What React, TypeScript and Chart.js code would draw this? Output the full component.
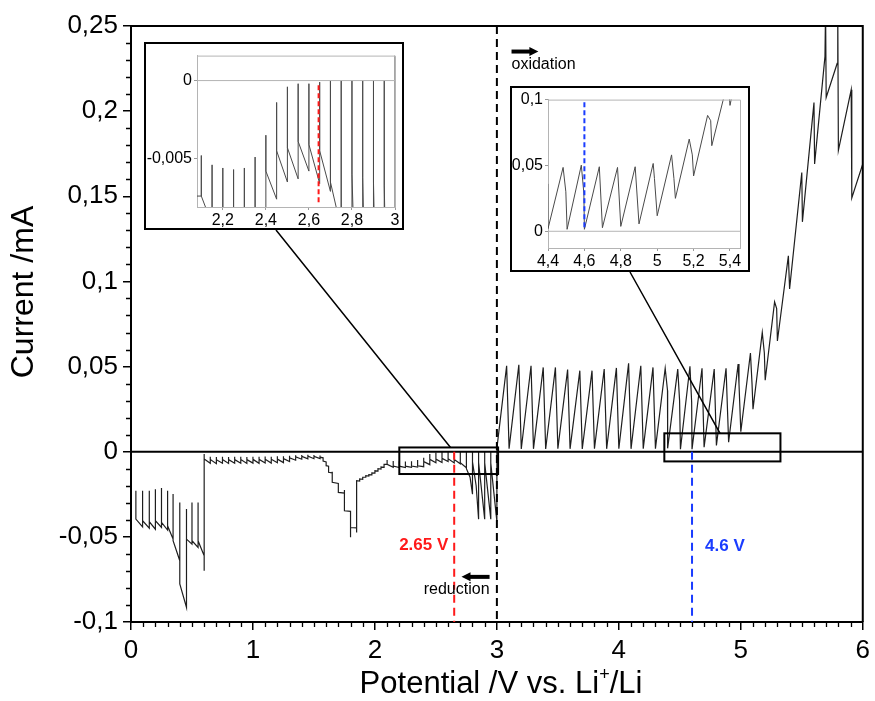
import React, { useEffect, useRef } from "react";
import { Chart, registerables } from "chart.js";
Chart.register(...registerables);

type Pt = [number, number];

// ---------- data: potential (V vs. Li+/Li), current (mA) ----------
const lithiationTrace: Pt[] = [
  [0.04, -0.0229], [0.04, -0.0396], [0.095, -0.0441], [0.095, -0.0229], [0.095, -0.0405],
  [0.15, -0.0449], [0.15, -0.0229], [0.15, -0.0411], [0.2, -0.0455], [0.2, -0.022], [0.2, -0.0405],
  [0.25, -0.0445], [0.25, -0.0213], [0.25, -0.0415], [0.3, -0.046], [0.3, -0.0229], [0.3, -0.0435],
  [0.345, -0.0513], [0.345, -0.0249], [0.345, -0.0523], [0.4, -0.064], [0.4, -0.0298], [0.4, -0.0777],
  [0.455, -0.0915], [0.455, -0.0337], [0.455, -0.0513], [0.5, -0.0543], [0.5, -0.0298], [0.5, -0.0523],
  [0.55, -0.0562], [0.55, -0.0298], [0.55, -0.0523], [0.6, -0.0611], [0.6, -0.0699], [0.6, -0.0014],
];

const plateauTrace: Pt[] = [
  [0.6, -0.0042], [0.65, -0.0068], [0.65, -0.003], [0.65, -0.0046], [0.7, -0.007], [0.7, -0.0031], [0.7, -0.0047],
  [0.75, -0.0068], [0.75, -0.0029], [0.75, -0.0045], [0.8, -0.0069], [0.8, -0.0031], [0.8, -0.0046],
  [0.85, -0.0068], [0.85, -0.003], [0.85, -0.0046], [0.9, -0.0068], [0.9, -0.0029], [0.9, -0.0045],
  [0.95, -0.0069], [0.95, -0.0031], [0.95, -0.0046], [1.0, -0.0067], [1.0, -0.0029], [1.0, -0.0045],
  [1.05, -0.0068], [1.05, -0.003], [1.05, -0.0045], [1.1, -0.0066], [1.1, -0.0028], [1.1, -0.0044],
  [1.15, -0.0067], [1.15, -0.0029], [1.15, -0.0044], [1.2, -0.0065], [1.2, -0.0027], [1.2, -0.0043],
  [1.25, -0.0064], [1.25, -0.0026], [1.25, -0.004], [1.3, -0.0058], [1.3, -0.0024], [1.3, -0.0036],
  [1.35, -0.005], [1.35, -0.0021], [1.35, -0.003], [1.4, -0.0044], [1.4, -0.0019], [1.4, -0.0027],
  [1.45, -0.0042], [1.45, -0.0018], [1.45, -0.0026], [1.5, -0.0041], [1.5, -0.0019], [1.5, -0.0027],
  [1.55, -0.004],
];

const peakTrace: Pt[] = [
  [1.55, -0.0022], [1.55, -0.0032], [1.575, -0.0036], [1.575, -0.0055], [1.6, -0.006], [1.6, -0.0082],
  [1.62, -0.0085], [1.62, -0.0121], [1.65, -0.0125], [1.65, -0.0118], [1.65, -0.018], [1.7, -0.0186],
  [1.7, -0.0196], [1.7, -0.0239], [1.75, -0.0243], [1.75, -0.0225], [1.75, -0.0347], [1.8, -0.035],
  [1.8, -0.0503], [1.8, -0.0445], [1.85, -0.0447], [1.85, -0.0474], [1.85, -0.017], [1.875, -0.0172],
  [1.875, -0.016], [1.9, -0.0162], [1.9, -0.015], [1.925, -0.015], [1.925, -0.0141], [1.95, -0.0143],
  [1.95, -0.0135], [1.975, -0.0136], [1.975, -0.0124], [2.0, -0.0125], [2.0, -0.0112], [2.025, -0.0114],
  [2.025, -0.01], [2.05, -0.0102], [2.05, -0.009], [2.075, -0.0092], [2.075, -0.0074], [2.1, -0.0074],
];

const highReductionTrace: Pt[] = [
  [2.1, -0.0048], [2.1, -0.0074], [2.15, -0.0092], [2.15, -0.0054], [2.15, -0.0084],
  [2.2, -0.0093], [2.2, -0.0056], [2.2, -0.0085], [2.25, -0.0093], [2.25, -0.0057], [2.25, -0.0085],
  [2.3, -0.0092], [2.3, -0.0056], [2.3, -0.0084], [2.35, -0.009], [2.35, -0.0049], [2.35, -0.0083],
  [2.4, -0.0088], [2.4, -0.0035], [2.4, -0.0058], [2.45, -0.0076], [2.45, -0.0014], [2.45, -0.0045],
  [2.5, -0.0065], [2.5, -0.0004], [2.5, -0.0043], [2.55, -0.0063], [2.55, -0.0002], [2.55, -0.0039],
  [2.6, -0.0058], [2.6, -0.0002], [2.6, -0.0041], [2.65, -0.0066], [2.65, -0.0001], [2.65, -0.0045],
  [2.7, -0.0071], [2.7, 0.0], [2.7, -0.0065], [2.75, -0.0095], [2.75, 0.0], [2.75, -0.01],
  [2.78, -0.015], [2.8, -0.025], [2.8, 0.0], [2.8, -0.006], [2.83, -0.02], [2.85, -0.0396],
  [2.85, 0.0], [2.85, -0.0062], [2.9, -0.0396], [2.9, 0.0], [2.9, -0.0065], [2.95, -0.0396],
  [2.95, 0.0], [2.95, -0.0067], [3.0, -0.041],
];

const oxidationTrace: Pt[] = [
  [3.0, 0.002], [3.08, 0.0505], [3.1, 0.0018], [3.18, 0.0511], [3.2, 0.0016], [3.28, 0.0505], [3.3, 0.0017],
  [3.38, 0.0495], [3.4, 0.0016], [3.48, 0.0495], [3.5, 0.0018], [3.58, 0.0482], [3.6, 0.0017],
  [3.68, 0.0476], [3.7, 0.0016], [3.78, 0.0476], [3.8, 0.0018], [3.88, 0.0486], [3.9, 0.0017],
  [3.98, 0.0492], [4.0, 0.0018], [4.08, 0.0519], [4.1, 0.0017], [4.18, 0.0505], [4.2, 0.0018],
  [4.28, 0.0495], [4.3, 0.0018], [4.38, 0.049], [4.399, 0.036], [4.4, 0.002], [4.483, 0.0485],
  [4.498, 0.03], [4.505, 0.0015], [4.583, 0.0502], [4.597, 0.029], [4.6, 0.0015], [4.682, 0.049],
  [4.699, 0.0027], [4.782, 0.0485], [4.8, 0.0037], [4.879, 0.049], [4.9, 0.0056],
];

const breakdownTrace: Pt[] = [
  [4.978, 0.0515], [4.985, 0.04], [5.0, 0.0118], [5.079, 0.058], [5.092, 0.04], [5.1, 0.025],
  [5.176, 0.07], [5.193, 0.058], [5.2, 0.042], [5.277, 0.088], [5.294, 0.084], [5.3, 0.065],
  [5.39, 0.115], [5.4, 0.0956], [5.5, 0.164], [5.505, 0.135], [5.6, 0.205], [5.605, 0.169],
  [5.69, 0.232], [5.695, 0.26], [5.7, 0.208], [5.79, 0.228], [5.795, 0.26], [5.8, 0.177],
  [5.905, 0.2125], [5.91, 0.149], [6.0, 0.169],
];

const zeroLine: Pt[] = [[0, 0], [6, 0]];

const xTicksMain = [0, 1, 2, 3, 4, 5, 6];
const yTicksMain = [-0.1, -0.05, 0, 0.05, 0.1, 0.15, 0.2, 0.25];
const xTicksInset1 = [2.2, 2.4, 2.6, 2.8, 3];
const yTicksInset1 = [-0.005, 0];
const xTicksInset2 = [4.4, 4.6, 4.8, 5, 5.2, 5.4];
const yTicksInset2 = [0, 0.05, 0.1];

const reductionOnset = 2.65; // V, red marker
const oxidationOnset = 4.6; // V, blue marker

// ---------- layout / styling ----------
const FONT = "'Liberation Sans', Arial, Helvetica, sans-serif";
const INSET1 = { left: 144, top: 42, width: 260, height: 188 };
const INSET2 = { left: 510, top: 86, width: 240, height: 186 };
const BOX1 = { x0: 2.2, x1: 3.01, y0: -0.0131, y1: 0.0025 };
const BOX2 = { x0: 4.373, x1: 5.325, y0: -0.0057, y1: 0.0108 };

const trace = [
  ...lithiationTrace, ...plateauTrace, ...peakTrace, ...highReductionTrace,
  ...oxidationTrace, ...breakdownTrace,
].map(([x, y]) => ({ x, y }));
const zero = zeroLine.map(([x, y]) => ({ x, y }));

const fmt = (v: number) => String(Math.round(v * 10000) / 10000).replace(".", ",").replace(/^-0$/, "0");

function arrow(ctx: CanvasRenderingContext2D, x0: number, x1: number, y: number) {
  const dir = Math.sign(x1 - x0);
  ctx.beginPath();
  ctx.lineWidth = 4;
  ctx.moveTo(x0, y);
  ctx.lineTo(x1 - dir * 7, y);
  ctx.stroke();
  ctx.beginPath();
  ctx.moveTo(x1, y);
  ctx.lineTo(x1 - dir * 9, y - 4.5);
  ctx.lineTo(x1 - dir * 9, y + 4.5);
  ctx.closePath();
  ctx.fill();
}

const mainDecor = {
  id: "mainDecor",
  afterDatasetsDraw(chart: any) {
    const { ctx, chartArea: a, scales } = chart;
    const X = (v: number) => scales.x.getPixelForValue(v);
    const Y = (v: number) => scales.y.getPixelForValue(v);
    ctx.save();
    ctx.strokeStyle = "#000";
    ctx.fillStyle = "#000";
    // frame
    ctx.lineWidth = 2;
    ctx.beginPath();
    ctx.moveTo(a.left, a.top);
    ctx.lineTo(a.right, a.top);
    ctx.lineTo(a.right, a.bottom);
    ctx.stroke();
    // minor ticks
    ctx.lineWidth = 1.3;
    ctx.beginPath();
    for (let i = 0; i <= 60; i++) {
      if (i % 10 === 0) continue;
      const px = Math.round(X(i / 10)) + 0.5;
      ctx.moveTo(px, a.bottom);
      ctx.lineTo(px, a.bottom + 5);
    }
    for (let i = -10; i <= 25; i++) {
      if (i % 5 === 0) continue;
      const py = Math.round(Y(i / 100)) + 0.5;
      ctx.moveTo(a.left, py);
      ctx.lineTo(a.left - 5, py);
    }
    ctx.stroke();
    // dashed markers
    ctx.lineWidth = 2;
    ctx.setLineDash([8, 5]);
    ctx.strokeStyle = "#000";
    ctx.beginPath();
    ctx.moveTo(X(3), a.top);
    ctx.lineTo(X(3), a.bottom);
    ctx.stroke();
    ctx.strokeStyle = "#ff1a1a";
    ctx.beginPath();
    ctx.moveTo(X(reductionOnset), Y(0));
    ctx.lineTo(X(reductionOnset), a.bottom);
    ctx.stroke();
    ctx.strokeStyle = "#1a3cff";
    ctx.beginPath();
    ctx.moveTo(X(oxidationOnset), Y(0));
    ctx.lineTo(X(oxidationOnset), a.bottom);
    ctx.stroke();
    ctx.setLineDash([]);
    // zoom boxes
    ctx.strokeStyle = "#000";
    ctx.lineWidth = 2;
    for (const b of [BOX1, BOX2]) {
      ctx.strokeRect(X(b.x0), Y(b.y1), X(b.x1) - X(b.x0), Y(b.y0) - Y(b.y1));
    }
    // connectors
    ctx.lineWidth = 1.5;
    ctx.beginPath();
    ctx.moveTo(INSET1.left + 132, INSET1.top + INSET1.height);
    ctx.lineTo(X(2.62), Y(BOX1.y1));
    ctx.moveTo(INSET2.left + 120, INSET2.top + INSET2.height);
    ctx.lineTo(X(4.83), Y(BOX2.y1));
    ctx.stroke();
    // annotations
    ctx.font = `16px ${FONT}`;
    ctx.textBaseline = "middle";
    ctx.textAlign = "left";
    ctx.fillText("oxidation", X(3.12), Y(0.2275));
    arrow(ctx, X(3.12), X(3.34), Y(0.235));
    ctx.textAlign = "right";
    ctx.fillText("reduction", X(2.94), Y(-0.081));
    arrow(ctx, X(2.94), X(2.71), Y(-0.0735));
    ctx.font = `bold 17px ${FONT}`;
    ctx.textAlign = "center";
    ctx.fillStyle = "#ff1a1a";
    ctx.fillText("2.65 V", X(2.4), Y(-0.055));
    ctx.fillStyle = "#1a3cff";
    ctx.fillText("4.6 V", X(4.87), Y(-0.0557));
    // axis titles
    ctx.fillStyle = "#000";
    ctx.textBaseline = "alphabetic";
    const main = "Potential /V vs. Li";
    const sup = "+";
    const tail = "/Li";
    ctx.font = `31px ${FONT}`;
    const w1 = ctx.measureText(main).width;
    const w3 = ctx.measureText(tail).width;
    ctx.font = `18px ${FONT}`;
    const w2 = ctx.measureText(sup).width;
    const total = w1 + w2 + w3;
    const cx = 501;
    const base = 693;
    const sx = cx - total / 2;
    ctx.textAlign = "left";
    ctx.font = `31px ${FONT}`;
    ctx.fillText(main, sx, base);
    ctx.font = `18px ${FONT}`;
    ctx.fillText(sup, sx + w1, base - 13);
    ctx.font = `31px ${FONT}`;
    ctx.fillText(tail, sx + w1 + w2, base);
    ctx.save();
    ctx.translate(33, 292);
    ctx.rotate(-Math.PI / 2);
    ctx.textAlign = "center";
    ctx.font = `32px ${FONT}`;
    ctx.fillText("Current /mA", 0, 0);
    ctx.restore();
    ctx.restore();
  },
};

function mainConfig(): any {
  return {
    type: "scatter",
    data: {
      datasets: [
        { data: zero, showLine: true, borderColor: "#000", borderWidth: 2, pointRadius: 0 },
        { data: trace, showLine: true, borderColor: "#1e1e1e", borderWidth: 1.2, pointRadius: 0, tension: 0 },
      ],
    },
    options: {
      animation: false,
      responsive: false,
      devicePixelRatio: 1,
      layout: { padding: { top: 26, right: 9, left: 0, bottom: 0 } },
      plugins: { legend: { display: false }, tooltip: { enabled: false } },
      scales: {
        x: {
          type: "linear", min: 0, max: 6,
          afterFit: (s: any) => { s.height = 79; },
          afterBuildTicks: (s: any) => { s.ticks = xTicksMain.map((v) => ({ value: v })); },
          ticks: { font: { family: FONT, size: 26 }, color: "#000", padding: 5, maxRotation: 0, callback: (v: number) => fmt(v) },
          grid: { drawOnChartArea: false, drawTicks: true, tickLength: 8, color: "#000", lineWidth: 1.5 },
          border: { display: true, color: "#000", width: 2 },
        },
        y: {
          type: "linear", min: -0.1, max: 0.25,
          afterFit: (s: any) => { s.width = 131; },
          afterBuildTicks: (s: any) => { s.ticks = yTicksMain.map((v) => ({ value: v })); },
          ticks: { font: { family: FONT, size: 26 }, color: "#000", padding: 5, callback: (v: number) => fmt(v) },
          grid: { drawOnChartArea: false, drawTicks: true, tickLength: 8, color: "#000", lineWidth: 1.5 },
          border: { display: true, color: "#000", width: 2 },
        },
      },
    },
    plugins: [mainDecor],
  };
}

type InsetSpec = {
  xMin: number; xMax: number; yMin: number; yMax: number;
  xTicks: number[]; yTicks: number[];
  pad: { top: number; right: number }; yWidth: number; xHeight: number;
  marker: { x: number; y0: number; y1: number; color: string };
};

const inset1Spec: InsetSpec = {
  xMin: 2.08, xMax: 3.0, yMin: -0.0081, yMax: 0.0016,
  xTicks: xTicksInset1, yTicks: yTicksInset1,
  pad: { top: 3, right: 7 }, yWidth: 51, xHeight: 21,
  marker: { x: 2.645, y0: -0.0003, y1: -0.0079, color: "#ff1a1a" },
};
const inset2Spec: InsetSpec = {
  xMin: 4.4, xMax: 5.455, yMin: -0.0127, yMax: 0.1,
  xTicks: xTicksInset2, yTicks: yTicksInset2,
  pad: { top: 7, right: 8 }, yWidth: 36, xHeight: 22,
  marker: { x: oxidationOnset, y0: 0.098, y1: 0.0015, color: "#1a3cff" },
};

function insetConfig(sp: InsetSpec): any {
  const decor = {
    id: "insetDecor",
    afterDatasetsDraw(chart: any) {
      const { ctx, chartArea: a, scales } = chart;
      const X = (v: number) => scales.x.getPixelForValue(v);
      const Y = (v: number) => scales.y.getPixelForValue(v);
      ctx.save();
      ctx.strokeStyle = "#b4b4b4";
      ctx.lineWidth = 1;
      ctx.beginPath();
      ctx.moveTo(a.left, a.top + 0.5);
      ctx.lineTo(a.right + 0.5, a.top + 0.5);
      ctx.lineTo(a.right + 0.5, a.bottom);
      ctx.stroke();
      ctx.setLineDash([5, 3]);
      ctx.lineWidth = 2;
      ctx.strokeStyle = sp.marker.color;
      ctx.beginPath();
      ctx.moveTo(X(sp.marker.x), Y(sp.marker.y0));
      ctx.lineTo(X(sp.marker.x), Y(sp.marker.y1));
      ctx.stroke();
      ctx.restore();
    },
  };
  const tickFont = { family: FONT, size: 16 };
  return {
    type: "scatter",
    data: {
      datasets: [
        { data: zero, showLine: true, borderColor: "#b4b4b4", borderWidth: 1, pointRadius: 0 },
        { data: trace, showLine: true, borderColor: "#4a4a4a", borderWidth: 1, pointRadius: 0, tension: 0 },
      ],
    },
    options: {
      animation: false,
      responsive: false,
      devicePixelRatio: 1,
      layout: { padding: { top: sp.pad.top, right: sp.pad.right, left: 0, bottom: 0 } },
      plugins: { legend: { display: false }, tooltip: { enabled: false } },
      scales: {
        x: {
          type: "linear", min: sp.xMin, max: sp.xMax,
          afterFit: (s: any) => { s.height = sp.xHeight; },
          afterBuildTicks: (s: any) => { s.ticks = sp.xTicks.map((v) => ({ value: v })); },
          ticks: { font: tickFont, color: "#000", padding: 1, maxRotation: 0, callback: (v: number) => fmt(v) },
          grid: { drawOnChartArea: false, drawTicks: true, tickLength: 3, color: "#999", lineWidth: 1 },
          border: { display: true, color: "#b4b4b4", width: 1 },
        },
        y: {
          type: "linear", min: sp.yMin, max: sp.yMax,
          afterFit: (s: any) => { s.width = sp.yWidth; },
          afterBuildTicks: (s: any) => { s.ticks = sp.yTicks.map((v) => ({ value: v })); },
          ticks: { font: tickFont, color: "#000", padding: 2, callback: (v: number) => fmt(v) },
          grid: { drawOnChartArea: false, drawTicks: true, tickLength: 3, color: "#999", lineWidth: 1 },
          border: { display: true, color: "#b4b4b4", width: 1 },
        },
      },
    },
    plugins: [decor],
  };
}

const boxStyle = (b: { left: number; top: number; width: number; height: number }): React.CSSProperties => ({
  position: "absolute", left: b.left, top: b.top, width: b.width, height: b.height,
  boxSizing: "border-box", border: "2px solid #000", background: "#fff",
});

export default function App() {
  const mainRef = useRef<HTMLCanvasElement>(null);
  const in1Ref = useRef<HTMLCanvasElement>(null);
  const in2Ref = useRef<HTMLCanvasElement>(null);
  useEffect(() => {
    const charts = [
      new Chart(mainRef.current!, mainConfig()),
      new Chart(in1Ref.current!, insetConfig(inset1Spec)),
      new Chart(in2Ref.current!, insetConfig(inset2Spec)),
    ];
    return () => charts.forEach((c) => c.destroy());
  }, []);
  return (
    <div style={{ position: "fixed", left: 0, top: 0, width: 875, height: 701, background: "#fff", overflow: "hidden" }}>
      <canvas ref={mainRef} width={875} height={701} style={{ position: "absolute", left: 0, top: 0, width: 875, height: 701 }} />
      <div style={boxStyle(INSET1)}>
        <canvas ref={in1Ref} width={INSET1.width - 4} height={INSET1.height - 4} style={{ display: "block", width: INSET1.width - 4, height: INSET1.height - 4 }} />
      </div>
      <div style={boxStyle(INSET2)}>
        <canvas ref={in2Ref} width={INSET2.width - 4} height={INSET2.height - 4} style={{ display: "block", width: INSET2.width - 4, height: INSET2.height - 4 }} />
      </div>
    </div>
  );
}
